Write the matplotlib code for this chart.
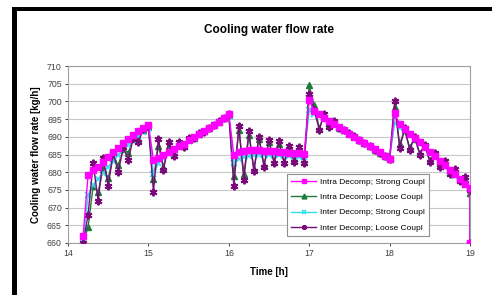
import numpy as np
import matplotlib
matplotlib.use("Agg")
import matplotlib.pyplot as plt
from matplotlib.patches import Rectangle

plt.rcParams['font.family'] = ['Liberation Sans', 'DejaVu Sans']

# time grid [h]: one sample every 3.75 min, plus a last point at 19 h
time_h = list(np.arange(14.1875, 19.0001, 0.0625)) + [19.0]

intra_strong = [662.0, 679.2, 680.5, 681.6, 682.8, 684.2, 685.6, 686.9, 688.2, 689.4, 690.5, 691.5, 692.5, 693.4,
                683.5, 684.0, 684.9, 685.7, 686.5, 687.3, 688.1, 689.0, 689.9, 690.7, 691.6, 692.5, 693.4, 694.3, 695.3, 696.4,
                685.0, 685.6, 686.0, 686.2, 686.3, 686.2, 686.1, 686.0, 685.9, 685.8, 685.6, 685.5, 685.4, 685.3, 685.2,
                700.4, 697.2, 696.3, 695.4, 694.5, 693.6, 692.7, 691.8, 690.9, 690.0, 689.1, 688.2, 687.4, 686.5, 685.6, 684.7, 683.8,
                696.6, 693.5, 692.2, 690.9, 689.6, 688.4, 687.1, 685.8, 684.5, 683.2, 681.9, 680.6, 679.4, 678.1, 676.8, 675.5,
                660.0]

intra_loose = [660.0, 664.5, 676.0, 674.5, 681.0, 678.5, 684.0, 682.0, 686.5, 685.5, 689.5, 689.5, 691.8, 692.8,
               678.0, 687.5, 681.5, 687.5, 685.0, 688.0, 687.5, 689.5, 689.7, 690.9, 691.5, 692.5, 693.3, 694.3, 695.2, 696.2,
               679.0, 692.0, 679.5, 690.5, 681.0, 689.5, 682.0, 688.5, 683.0, 688.0, 683.0, 687.0, 683.5, 686.5, 683.0,
               704.5, 699.0, 692.5, 696.0, 693.3, 694.2, 692.6, 691.9, 691.0, 690.1, 689.2, 688.3, 687.3, 686.4, 685.5, 684.6, 683.8,
               698.5, 688.0, 691.8, 687.0, 689.5, 685.5, 687.5, 683.5, 685.2, 682.0, 683.0, 680.0, 680.8, 677.8, 678.2, 674.0,
               674.0]

inter_strong = [660.0, 673.5, 676.5, 678.0, 679.8, 681.5, 683.2, 684.8, 686.4, 687.8, 689.1, 690.3, 691.4, 692.5,
                679.5, 682.5, 684.0, 685.2, 686.1, 687.0, 687.8, 688.7, 689.6, 690.5, 691.4, 692.3, 693.2, 694.1, 695.0, 696.0,
                682.5, 683.8, 684.3, 684.6, 684.8, 684.9, 685.0, 685.0, 684.9, 684.8, 684.7, 684.6, 684.5, 684.4, 684.3,
                697.5, 696.5, 696.0, 695.3, 694.4, 693.5, 692.6, 691.7, 690.8, 689.9, 689.0, 688.1, 687.2, 686.3, 685.4, 684.5, 683.8,
                693.8, 692.5, 691.6, 690.5, 689.3, 688.0, 686.8, 685.5, 684.2, 682.9, 681.6, 680.3, 679.0, 677.8, 676.5, 675.2,
                675.2]

inter_loose = [660.0, 668.0, 682.5, 672.0, 684.0, 676.0, 685.5, 680.0, 687.0, 683.5, 689.8, 688.5, 692.3, 693.0,
               674.5, 689.5, 680.5, 688.5, 684.5, 688.5, 687.0, 689.8, 689.6, 691.0, 691.4, 692.6, 693.3, 694.4, 695.2, 696.3,
               676.0, 693.0, 677.9, 691.5, 680.2, 690.0, 681.6, 689.1, 682.6, 688.7, 682.6, 687.4, 683.0, 687.0, 682.7,
               702.0, 697.5, 692.0, 696.5, 692.8, 694.5, 692.5, 692.0, 691.0, 690.1, 689.2, 688.3, 687.3, 686.4, 685.5, 684.6, 683.8,
               700.0, 686.8, 692.4, 686.3, 690.0, 685.0, 687.8, 683.0, 685.5, 681.5, 683.2, 679.5, 681.0, 677.5, 678.6, 675.0,
               660.0]

labels = ['Intra Decomp; Strong Coupl', 'Intra Decomp; Loose Coupl',
          'Inter Decomp; Strong Coupl', 'Inter Decomp; Loose Coupl']

fig = plt.figure(figsize=(4.92, 2.95), dpi=100)
fig.patch.set_facecolor('white')

# black frame pieces along the top and left edge
fig.patches.append(Rectangle((12 / 492, 0), 5 / 492, 1 - 7 / 295, transform=fig.transFigure,
                             facecolor='black', edgecolor='none'))
fig.patches.append(Rectangle((12 / 492, 1 - 10.5 / 295), 1, 3.5 / 295, transform=fig.transFigure,
                             facecolor='black', edgecolor='none'))

ax = fig.add_axes([68 / 492, 1 - 243 / 295, 402 / 492, 177 / 295])

ax.plot(time_h, intra_strong, color='#FF00FF', marker='s', ms=4.0, lw=1.0, label=labels[0], zorder=5)
ax.plot(time_h, intra_loose, color='#1E7B3A', marker='^', ms=4.2, lw=1.0, label=labels[1], zorder=2)
ax.plot(time_h, inter_strong, color='#33DDEE', marker='x', ms=4.2, mew=1.2, lw=1.0, label=labels[2], zorder=3)
ax.plot(time_h, inter_loose, color='#7A0A7A', marker=(6, 2, 0), ms=5.5, mew=1.4, lw=1.0, label=labels[3], zorder=4)

ax.set_xlim(14, 19)
ax.set_ylim(660, 710)
ax.set_xticks(range(14, 20))
ax.set_yticks(range(660, 711, 5))
ax.yaxis.grid(True, color='#C8C8C8', lw=0.8)
ax.set_axisbelow(True)
for s in ax.spines.values():
    s.set_color('#A0A0A0')
    s.set_linewidth(0.8)
ax.tick_params(labelsize=6.3, colors='#404040', length=2.5, width=0.7, pad=2)

ax.set_title('Cooling water flow rate', fontsize=8.5, fontweight='bold', pad=24)
ax.set_xlabel('Time [h]', fontsize=7, fontweight='bold', labelpad=6)
ax.set_ylabel('Cooling water flow rate [kg/h]', fontsize=7, fontweight='bold', labelpad=4)

leg = ax.legend(loc='lower left', bbox_to_anchor=(0.545, 0.04), fontsize=6, frameon=True,
                fancybox=False, edgecolor='#909090', framealpha=1, handlelength=3.0,
                borderpad=0.5, labelspacing=0.9, handletextpad=0.5, borderaxespad=0)
leg.get_frame().set_linewidth(0.8)
leg.set_zorder(10)
for h in leg.legend_handles:
    h.set_markersize(3.5)

fig.savefig('out.png', dpi=100)
